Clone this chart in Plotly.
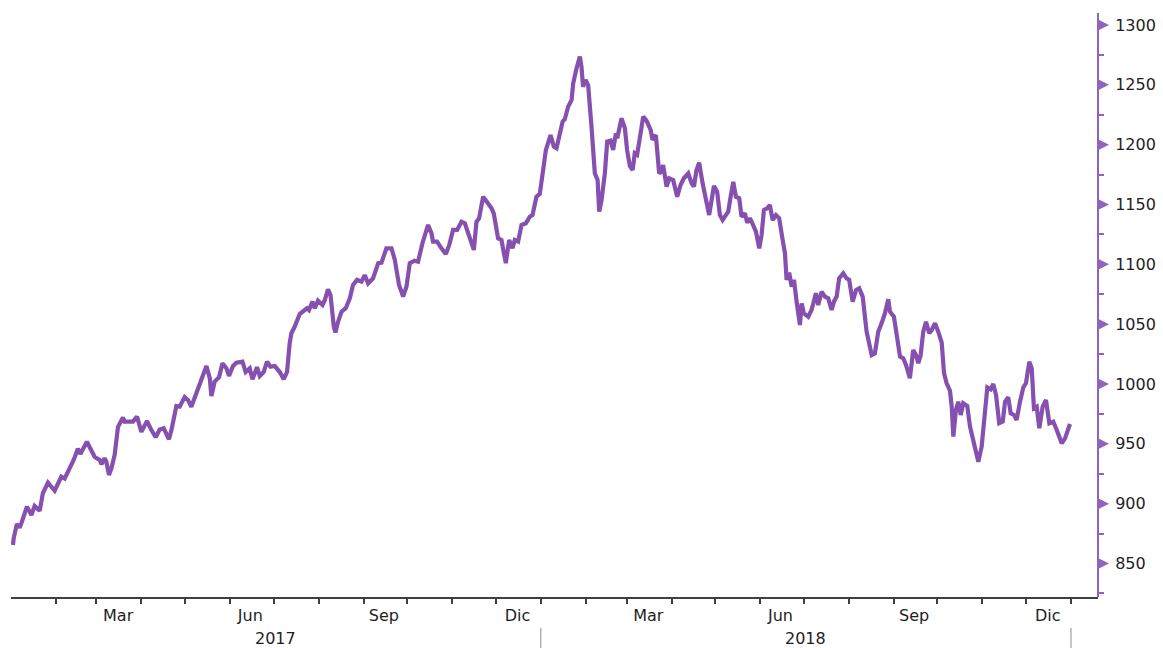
import pandas as pd
import plotly.graph_objects as go

START_DATE = "2017-01-01"

# days elapsed since START_DATE and index level
days_since_start = [
    1.6, 2.1, 4.3, 6.2, 7.4, 11.2, 14.3, 16.5, 20.0, 22.2, 25.7, 30.3, 34.9, 37.2, 40.6, 43.4,
    46.3, 48.0, 52.5, 57.9, 61.3, 62.5, 64.7, 65.9, 67.7, 69.4, 71.6, 73.9, 77.3, 78.5, 84.2,
    87.0, 90.0, 91.6, 93.9, 96.9, 99.9, 102.6, 105.4, 109.0, 110.7, 114.1,
    116.4, 119.8, 122.1, 124.4, 127.9, 131.3, 134.8, 137.1, 138.2, 140.5, 143.5, 145.8, 148.6,
    150.3, 153.1, 155.4, 159.6, 161.8, 164.6, 166.5, 169.6, 171.5, 174.2, 176.5, 178.9, 181.8,
    185.3, 188.0, 190.3, 192.1, 193.3, 195.6, 199.0, 202.5, 204.1, 205.4, 207.8, 209.4, 211.6,
    214.7, 216.3, 218.5, 220.2, 222.5, 223.6, 225.4, 227.8, 230.7,
    233.5, 235.7, 238.5, 241.5, 243.8, 246.1, 249.5, 253.0, 255.3, 258.7, 262.2, 264.5, 267.4,
    270.2, 272.5, 274.8, 278.2, 280.5, 283.5, 287.4, 289.7, 290.8, 293.6, 296.6, 299.6, 301.9,
    304.6, 307.4, 310.4, 312.7, 315.6, 318.9, 320.7, 322.5, 325.3, 328.0, 331.1, 332.6, 335.6,
    337.9, 340.9, 343.2, 345.5, 347.1, 349.4, 351.7, 354.7, 357.4, 359.3,
    362.0, 364.3, 366.6, 368.5, 371.7, 374.0, 375.8, 377.6, 380.0, 381.5, 383.8, 386.2, 387.3,
    389.6, 391.9, 393.0, 394.1, 395.8, 397.6, 399.9, 402.2, 404.1, 405.2, 406.8, 409.1, 410.7,
    413.0, 414.8, 416.7, 417.6, 420.6, 422.9, 424.4, 426.3, 428.2, 429.7, 431.3, 433.7, 435.5,
    437.8, 440.6, 441.9, 444.2, 446.5, 448.1, 449.2, 450.4, 451.6, 453.4, 456.1, 458.9, 461.2,
    463.5, 466.5, 468.8, 470.4, 472.2, 474.0, 476.4, 478.6, 480.9,
    484.2, 486.4, 488.3, 490.2, 491.7, 494.0, 495.7, 497.5, 499.3, 501.6, 503.2, 505.5, 507.1,
    509.0, 510.8, 513.1, 515.4, 517.0, 518.6, 520.9, 522.7, 524.6, 526.9, 529.1, 531.5, 533.1,
    534.2, 536.0, 537.7, 539.3, 541.1, 543.4, 544.6, 546.1, 549.1, 551.4, 554.4, 556.0, 558.3,
    560.6, 562.9, 565.2, 566.8, 568.7, 570.4, 573.2, 575.5, 577.3, 579.7, 582.0, 584.2, 586.6,
    589.3, 592.8, 595.0, 597.3, 599.6, 601.9, 604.2,
    605.4, 608.1, 610.4, 612.3, 614.5, 616.4, 619.1, 621.4, 623.3, 624.9, 626.5, 628.3, 630.2,
    632.4, 634.1, 636.4, 638.6, 641.0, 642.6, 644.4, 646.7, 647.9, 649.0, 650.8, 652.4, 654.1,
    655.8, 658.6, 660.5, 663.2, 666.2, 668.5, 670.8, 672.4, 674.7, 676.5, 678.4, 680.6, 683.0,
    684.6, 686.8, 688.5, 690.8, 692.6, 694.9, 697.2, 699.0, 701.3, 703.0, 704.5, 706.4, 708.2,
    710.5, 712.8, 715.1, 717.8, 720.2, 723.6, 725.9, 729.3,
]

index_values = [
    865.5, 871, 883, 880, 883.6, 897.5, 890.5, 898, 894, 908.7, 917.5, 910.8, 922.5, 921, 929.5,
    936.5, 946, 941.5, 951.8, 939, 936.5, 933, 938, 935, 924, 929.5, 940.7, 964, 972, 968.5,
    968.5, 972.7, 960, 964, 969, 961.5, 955.5, 962, 963, 953.8, 961.5, 981.6,
    981, 989, 986.6, 981, 992, 1003.3, 1015, 1004.8, 990, 1002, 1005.6, 1017.3, 1013, 1006.7,
    1015, 1017.8, 1018.6, 1010, 1013, 1004, 1014, 1006.7, 1010, 1018.6, 1014.5, 1015, 1010,
    1004, 1010, 1034, 1042.4, 1048, 1058.5, 1061.8, 1063.3, 1061.8, 1068.8, 1063.3, 1069.6,
    1066, 1070.2, 1079, 1074.4, 1048, 1043, 1052, 1060.4, 1063.3,
    1071.6, 1082.7, 1087, 1085.5, 1091, 1084, 1088.3, 1100.9, 1101.4, 1113.4, 1113.4, 1103.6,
    1082.7, 1073, 1081.3, 1100.9, 1103, 1102.2, 1117.6, 1132.9, 1126, 1119, 1119, 1113.4,
    1108.6, 1116, 1128.7, 1128.7, 1135.6, 1134.3, 1123.7, 1112, 1135.6, 1138.4, 1156.5, 1152.3,
    1146.8, 1142.6, 1121.7, 1120.3, 1100.9, 1120.3, 1113.4, 1120.3, 1119, 1132.9, 1134.3,
    1139.8, 1141.2,
    1156.5, 1158.8, 1178.8, 1195.5, 1208, 1198.3, 1197, 1208, 1219.2, 1221.2, 1231.7, 1237.3,
    1251.3, 1263.8, 1273.5, 1265.1, 1248.4, 1254, 1249.8, 1215, 1176, 1170.5, 1144, 1153.7,
    1176, 1202.5, 1203.3, 1195.5, 1209.5, 1205.3, 1222, 1213.7, 1195.5, 1182.2, 1178.8, 1192.8,
    1191.4, 1209.5, 1223.5, 1220.1, 1212.4, 1204, 1208, 1176, 1177.4, 1183, 1176, 1164.9,
    1171.9, 1170.5, 1156.5, 1166.3, 1171.9, 1176, 1167.7, 1164.9, 1178.8, 1184.9, 1167.7,
    1153.7, 1141.2,
    1165.5, 1160.7, 1141.2, 1137, 1139.8, 1144, 1156.5, 1169, 1156.5, 1155.2, 1139.8, 1142.6,
    1134.8, 1138.5, 1133.7, 1127.3, 1113.4, 1124.5, 1145.4, 1146.8, 1149.6, 1137, 1141.2,
    1138.5, 1120.3, 1109.2, 1087, 1093, 1081.3, 1087, 1068.8, 1049.3, 1067.4, 1059, 1056.2,
    1061.8, 1075.8, 1066, 1077.1, 1073, 1071.6, 1061.8, 1068.8, 1073, 1088.3, 1092.5, 1088.3,
    1087, 1068.8, 1078.5, 1080, 1073, 1043.7, 1024.2, 1025.6, 1043.7, 1050.7, 1059, 1070.8,
    1060.4, 1056.2, 1039.5, 1022.8, 1021.5, 1015.9, 1004.8, 1028.4, 1024.2, 1017.3, 1024.2,
    1043.7, 1052, 1042.4, 1045.1, 1050.7, 1043.7, 1034.5, 1009, 1000.6, 994.4, 981, 956, 978.3,
    985.2, 974.1, 983.9, 981.6, 964.3, 950.4, 935, 947.6, 972.7, 997.2, 995.6, 1000, 990.8,
    967.2, 968.5, 985.2, 988.9, 975.5, 974.1, 970, 985.2, 997.2, 1000.6, 1018.6, 1013.1, 979.7,
    981, 963, 981, 986.6, 967.2, 968.5, 961.5, 950.4, 954.6, 966.6,
]

month_label_dates = ["2017-03-16", "2017-06-15", "2017-09-15", "2017-12-16",
                     "2018-03-16", "2018-06-15", "2018-09-15", "2018-12-16"]
month_labels = ["Mar", "Jun", "Sep", "Dic", "Mar", "Jun", "Sep", "Dic"]
year_label_dates = ["2017-07-02", "2018-07-02"]
year_labels = ["2017", "2018"]
year_break_dates = ["2018-01-01", "2019-01-01"]
y_tick_values = [850, 900, 950, 1000, 1050, 1100, 1150, 1200, 1250, 1300]

start = pd.Timestamp(START_DATE)
dates = start + pd.to_timedelta(days_since_start, unit="D")

LINE_PURPLE = "#8550AF"
AXIS_PURPLE = "#9263BE"
X_AXIS_COLOR = "#3f3f3f"
FONT = dict(family="DejaVu Sans, Verdana, sans-serif", size=16, color="#1e1e1e")

W, H = 1163, 648
ML, MR, MT, MB = 11, 10, 13, 51
PLOT_RIGHT_PX = 1098                       # right edge of the plotting area
PAPER_W = W - ML - MR
X_DOMAIN_END = (PLOT_RIGHT_PX - ML) / PAPER_W
MARK_TIP = (PLOT_RIGHT_PX + 11 - ML) / PAPER_W   # tip of the triangular tick marks

fig = go.Figure()
fig.add_trace(go.Scatter(
    x=dates, y=index_values, mode="lines",
    line=dict(color=LINE_PURPLE, width=4.2),
    showlegend=False,
))
# triangular major tick marks on the right-hand value axis
fig.add_trace(go.Scatter(
    x=[MARK_TIP] * len(y_tick_values), y=y_tick_values,
    xaxis="x2", yaxis="y", mode="markers",
    marker=dict(symbol="arrow-right", size=10, color=AXIS_PURPLE, line=dict(width=0)),
    cliponaxis=False, showlegend=False, hoverinfo="skip",
))

annotations = [
    dict(x=d, y=0, xref="x", yref="paper", yanchor="middle", yshift=-41,
         text=t, showarrow=False, font=FONT)
    for d, t in zip(year_label_dates, year_labels)
]
shapes = [
    dict(type="line", xref="x", yref="paper", x0=d, x1=d, y0=-0.053, y1=-0.09,
         line=dict(color="#8c8c8c", width=1))
    for d in year_break_dates
]

fig.update_layout(
    width=W, height=H,
    margin=dict(l=ML, r=MR, t=MT, b=MB, autoexpand=False),
    paper_bgcolor="white", plot_bgcolor="rgba(0,0,0,0)",
    showlegend=False,
    annotations=annotations,
    shapes=shapes,
    xaxis=dict(
        type="date", domain=[0, X_DOMAIN_END],
        range=[start + pd.Timedelta(hours=6), start + pd.Timedelta(days=748.6)],
        showline=True, linecolor=X_AXIS_COLOR, linewidth=1.5,
        showgrid=False, zeroline=False,
        tickmode="array", tickvals=month_label_dates, ticktext=month_labels,
        ticks="", ticklabelstandoff=3, tickfont=FONT,
        minor=dict(ticks="outside", ticklen=5, tickwidth=1.5, tickcolor=X_AXIS_COLOR,
                   tickmode="linear", tick0=START_DATE, dtick="M1", showgrid=False),
    ),
    xaxis2=dict(domain=[0, 1], range=[0, 1], anchor="y", visible=False),
    yaxis=dict(
        side="right", anchor="free", position=X_DOMAIN_END, range=[822, 1310],
        showline=True, linecolor=AXIS_PURPLE, linewidth=2,
        showgrid=False, zeroline=False, automargin=False,
        tickmode="array", tickvals=y_tick_values,
        ticks="outside", ticklen=13, tickcolor="rgba(0,0,0,0)",
        tickfont=FONT,
        minor=dict(ticks="outside", ticklen=5, tickwidth=1.5, tickcolor=AXIS_PURPLE,
                   tickmode="linear", tick0=825, dtick=50, showgrid=False),
    ),
)

fig.write_html(
    "out.html",
    config={"displayModeBar": False},
    post_script="document.body.style.margin='0';document.body.style.overflow='hidden';",
)
